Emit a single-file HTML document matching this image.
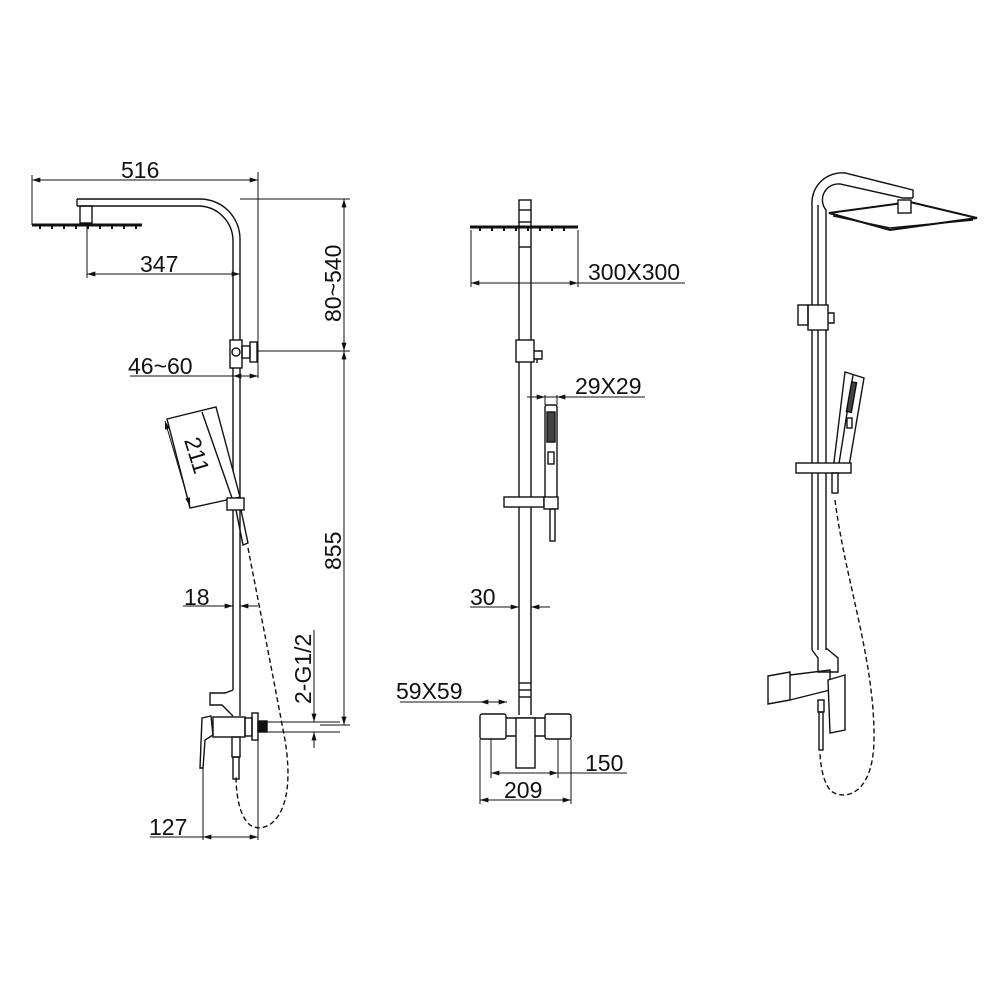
<!DOCTYPE html>
<html><head><meta charset="utf-8"><style>
html,body{margin:0;padding:0;background:#fff}
svg{display:block}
text{font-family:"Liberation Sans",sans-serif;font-size:23px;fill:#111}
</style></head><body>
<svg width="1000" height="1000" viewBox="0 0 1000 1000" xmlns="http://www.w3.org/2000/svg">
<defs>
<marker id="a" viewBox="0 0 10 6" refX="10" refY="3" markerWidth="9" markerHeight="5" orient="auto-start-reverse"><path d="M0,0L10,3L0,6z" fill="#111"/></marker>
</defs>
<g stroke="#111" fill="none" stroke-width="1.4">
<!-- LEFT VIEW -->
<path d="M77,199H200A40,40 0 0 1 240,239V690"/>
<path d="M77,206H198A35,35 0 0 1 233,241V690"/>
<path d="M77,199V206"/>
<rect x="80" y="206" width="12" height="17"/>
<line x1="32" y1="225" x2="142" y2="225" stroke-width="3"/>
<path d="M40,226v3M52,226v3M64,226v3M76,226v3M88,226v3M100,226v3M112,226v3M124,226v3M136,226v3" stroke-width="2"/>
<line x1="32" y1="180" x2="258" y2="180" marker-start="url(#a)" marker-end="url(#a)" stroke-width="1"/>
<line x1="32" y1="175" x2="32" y2="225" stroke-width="1"/>
<line x1="258" y1="172" x2="258" y2="378" stroke-width="1"/>
<line x1="87" y1="274" x2="240" y2="274" marker-start="url(#a)" marker-end="url(#a)" stroke-width="1"/>
<line x1="87" y1="225" x2="87" y2="278" stroke-width="1"/>
<line x1="240" y1="199" x2="350" y2="199" stroke-width="1"/>
<line x1="258" y1="351" x2="350" y2="351" stroke-width="1"/>
<line x1="344" y1="199" x2="344" y2="351" marker-start="url(#a)" marker-end="url(#a)" stroke-width="1"/>
<line x1="344" y1="351" x2="344" y2="725" marker-start="url(#a)" marker-end="url(#a)" stroke-width="1"/>
<line x1="320" y1="725" x2="350" y2="725" stroke-width="1"/>
<line x1="130" y1="376" x2="258" y2="376" marker-end="url(#a)" stroke-width="1"/>
<line x1="233" y1="376" x2="244" y2="376" marker-start="url(#a)" stroke-width="1"/>
<rect x="230" y="340" width="12" height="28" fill="#fff"/>
<circle cx="236" cy="352" r="4"/>
<rect x="242" y="346" width="8" height="12"/>
<rect x="250" y="342" width="7" height="20"/>
<path d="M167,419L216,407L240,497L190,508Z" fill="#fff"/>
<path d="M202,412L232,498"/>
<path d="M165,421L190,506" stroke-width="1" marker-start="url(#a)" marker-end="url(#a)"/>
<rect x="227" y="498" width="17" height="12" fill="#fff"/>
<path d="M236,510L243,545L248,543L241,510"/>
<path d="M248,548C258,600 270,660 285,740C298,820 265,835 250,825C238,815 236,790 236,775" stroke-dasharray="5,3"/>
<line x1="183" y1="606" x2="233" y2="606" marker-end="url(#a)" stroke-width="1"/>
<line x1="240" y1="606" x2="258" y2="606" marker-start="url(#a)" stroke-width="1"/>
<path d="M233,690L225,693H210V705H222L233,716"/>
<path d="M240,690V716"/>
<rect x="213" y="717" width="32" height="20" fill="#fff"/>
<path d="M202,718L211,716L213,735L205,740L203,768L200,768Z" fill="#fff"/>
<rect x="232" y="737" width="8" height="20"/>
<rect x="233" y="757" width="6" height="22"/>
<rect x="245" y="718" width="7" height="18"/>
<rect x="252" y="713" width="6" height="27"/>
<rect x="258" y="721" width="9" height="11" fill="#111"/>
<line x1="267" y1="722" x2="340" y2="722" stroke-width="1"/>
<line x1="267" y1="732" x2="340" y2="732" stroke-width="1"/>
<line x1="314" y1="630" x2="314" y2="722" marker-end="url(#a)" stroke-width="1"/>
<line x1="314" y1="732" x2="314" y2="748" marker-start="url(#a)" stroke-width="1"/>
<line x1="203" y1="768" x2="203" y2="840" stroke-width="1"/>
<line x1="258" y1="740" x2="258" y2="840" stroke-width="1"/>
<line x1="150" y1="837" x2="258" y2="837" stroke-width="1" marker-end="url(#a)"/>
<line x1="203" y1="837" x2="220" y2="837" stroke-width="1" marker-start="url(#a)"/>

<!-- MIDDLE VIEW -->
<line x1="519" y1="222" x2="519" y2="715"/>
<line x1="531" y1="222" x2="531" y2="715"/>
<rect x="519" y="200" width="12" height="22"/>
<line x1="519" y1="210" x2="531" y2="210"/>
<line x1="470" y1="227" x2="578" y2="227" stroke-width="3"/>
<path d="M480,228v3M492,228v3M504,228v3M516,228v3M528,228v3M540,228v3M552,228v3M564,228v3" stroke-width="2"/>
<line x1="519" y1="247" x2="531" y2="247"/>
<line x1="471" y1="230" x2="471" y2="287" stroke-width="1"/>
<line x1="578" y1="230" x2="578" y2="287" stroke-width="1"/>
<line x1="471" y1="283" x2="578" y2="283" stroke-width="1" marker-start="url(#a)" marker-end="url(#a)"/>
<line x1="578" y1="283" x2="685" y2="283" stroke-width="1"/>
<rect x="516" y="340" width="18" height="22" fill="#fff"/>
<path d="M534,351h8v8h-8M537,359v4"/>
<line x1="527" y1="397" x2="645" y2="397" stroke-width="1"/>
<line x1="536" y1="397" x2="545" y2="397" stroke-width="1" marker-end="url(#a)"/>
<line x1="557" y1="397" x2="566" y2="397" stroke-width="1" marker-start="url(#a)"/>
<line x1="545" y1="395" x2="545" y2="405" stroke-width="1"/>
<line x1="557" y1="395" x2="557" y2="405" stroke-width="1"/>
<rect x="545" y="405" width="12" height="95" rx="2" fill="#fff"/>
<rect x="547" y="412" width="8" height="30" fill="#444"/>
<rect x="548" y="452" width="6" height="12"/>
<rect x="504" y="497" width="40" height="10" fill="#fff"/>
<rect x="544" y="497" width="14" height="12" fill="#fff"/>
<rect x="550" y="509" width="5" height="32"/>
<line x1="470" y1="607" x2="519" y2="607" stroke-width="1" marker-end="url(#a)"/>
<line x1="531" y1="607" x2="550" y2="607" stroke-width="1" marker-start="url(#a)"/>
<line x1="519" y1="683" x2="531" y2="683"/>
<line x1="519" y1="690" x2="531" y2="690"/>
<line x1="519" y1="697" x2="531" y2="697"/>
<rect x="480" y="714" width="26" height="25" rx="2" fill="#fff"/>
<rect x="545" y="714" width="26" height="25" rx="2" fill="#fff"/>
<line x1="506" y1="718" x2="545" y2="718"/>
<line x1="506" y1="736" x2="545" y2="736"/>
<rect x="516" y="718" width="19" height="50" fill="#fff"/>
<line x1="491" y1="739" x2="491" y2="778" stroke-width="1"/>
<line x1="558" y1="739" x2="558" y2="778" stroke-width="1"/>
<line x1="480" y1="739" x2="480" y2="804" stroke-width="1"/>
<line x1="571" y1="739" x2="571" y2="804" stroke-width="1"/>
<line x1="491" y1="773" x2="558" y2="773" stroke-width="1" marker-start="url(#a)" marker-end="url(#a)"/>
<line x1="558" y1="773" x2="627" y2="773" stroke-width="1"/>
<line x1="480" y1="800" x2="571" y2="800" stroke-width="1" marker-start="url(#a)" marker-end="url(#a)"/>
<line x1="400" y1="702" x2="507" y2="702" stroke-width="1"/>
<line x1="480" y1="702" x2="507" y2="702" stroke-width="1" marker-start="url(#a)" marker-end="url(#a)"/>

<!-- RIGHT VIEW -->
<path d="M812,650V205A30,30 0 0 1 845,173L913,190V198"/>
<path d="M826,650V210A16,16 0 0 1 840,184L903,198H913"/>
<path d="M818,650V205"/>
<path d="M829,213L910,202L977,218L890,230Z" fill="#fff" stroke-width="2"/>
<path d="M833,216L890,228L973,220"/>
<rect x="898" y="200" width="13" height="13" fill="#fff"/>
<rect x="808" y="305" width="20" height="25" fill="#fff"/>
<rect x="798" y="305" width="10" height="20"/>
<path d="M828,313h6v10h-6"/>
<path d="M845,372L864,378L848,472L833,470Z" fill="#fff"/>
<path d="M853,375L838,470"/>
<rect x="849" y="382" width="5" height="30" fill="#444" transform="rotate(10 851 397)"/>
<rect x="847" y="418" width="5" height="10"/>
<rect x="796" y="463" width="55" height="10" fill="#fff"/>
<rect x="832" y="473" width="6" height="20"/>
<path d="M835,500C845,580 875,660 874,740C873,800 840,800 830,790C822,780 820,760 820,752" stroke-dasharray="5,3"/>
<path d="M812,650L818,658V672H838V658L826,648"/>
<path d="M768,676L790,672V700L768,704Z" fill="#fff"/>
<path d="M790,675L830,670V690L790,700"/>
<path d="M828,680L845,675V730L830,733Z" fill="#fff"/>
<rect x="818" y="700" width="6" height="12"/>
<rect x="819" y="712" width="4" height="38"/>
</g>
<g>
<text x="121" y="178">516</text>
<text x="140" y="272">347</text>
<text x="128" y="374">46~60</text>
<text x="184" y="605">18</text>
<text x="149" y="835">127</text>
<text transform="translate(341,322) rotate(-90)">80~540</text>
<text transform="translate(341,570) rotate(-90)">855</text>
<text transform="translate(311,704) rotate(-90)">2-G1/2</text>
<text transform="translate(184,440) rotate(73)">211</text>
<text x="588" y="280">300X300</text>
<text x="575" y="394">29X29</text>
<text x="470" y="605">30</text>
<text x="396" y="699">59X59</text>
<text x="585" y="771">150</text>
<text x="504" y="798">209</text>
</g>
</svg>
</body></html>
